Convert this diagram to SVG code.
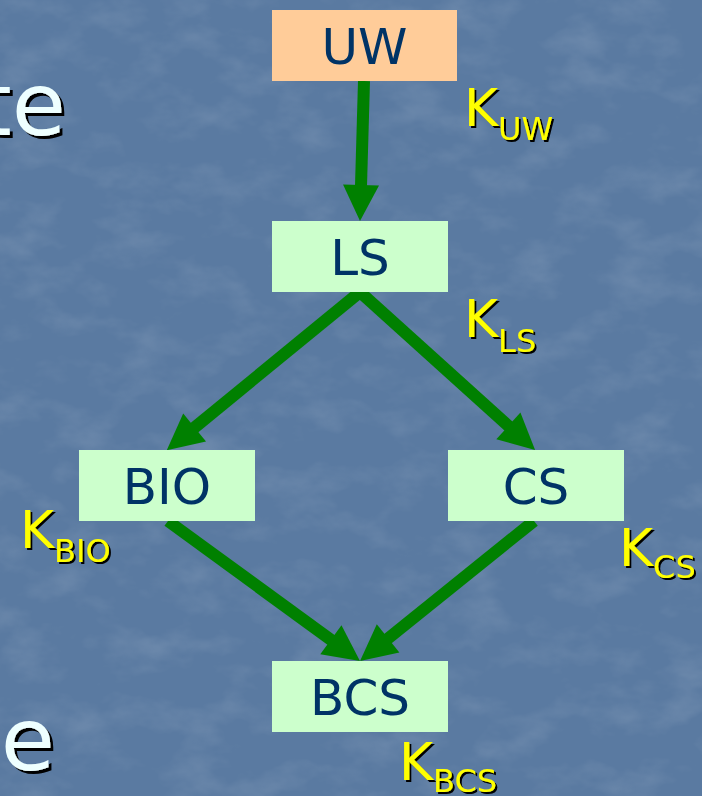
<svg xmlns="http://www.w3.org/2000/svg" width="702" height="796" viewBox="0 0 702 796">
  <defs>
    <style>
      .box-uw { fill: #FFCC99; }
      .box { fill: #CCFFCC; }
      .node-label { font-family: "DejaVu Sans", "Liberation Sans", sans-serif; font-size: 50px; fill: #003366; text-anchor: middle; }
      .k { font-family: "DejaVu Sans", "Liberation Sans", sans-serif; font-size: 52px; fill: #FFFF00; filter: url(#shadow); }
      .k tspan.sub { font-size: 32px; }
      .title { font-family: "DejaVu Sans", "Liberation Sans", sans-serif; font-size: 88px; fill: #EEFFFF; text-anchor: end; filter: url(#shadowBig); }
      .edge { stroke: #008000; stroke-width: 12; fill: none; marker-end: url(#head); }
    </style>
    <marker id="head" markerUnits="userSpaceOnUse" markerWidth="36" markerHeight="36" refX="15" refY="18" orient="auto" overflow="visible">
      <path d="M0,0 L36,18 L0,36 z" fill="#008000"/>
    </marker>
    <filter id="shadow" x="-10%" y="-10%" width="130%" height="130%">
      <feDropShadow dx="2" dy="2" stdDeviation="0.4" flood-color="#000000" flood-opacity="1"/>
    </filter>
    <filter id="shadowBig" x="-10%" y="-10%" width="130%" height="130%">
      <feDropShadow dx="3" dy="3" stdDeviation="0.6" flood-color="#000000" flood-opacity="1"/>
    </filter>
    <!-- mottled backdrop texture -->
    <filter id="marble" x="0" y="0" width="100%" height="100%">
      <feTurbulence type="fractalNoise" baseFrequency="0.018 0.03" numOctaves="4" seed="7" result="noise"/>
      <feColorMatrix in="noise" type="matrix"
        values="0 0 0 0 1
                0 0 0 0 1
                0 0 0 0 1
                1.1 0 0 0 -0.5" />
    </filter>
  </defs>

  <!-- backdrop -->
  <rect x="0" y="0" width="702" height="796" fill="#5A7AA1"/>
  <rect x="0" y="0" width="702" height="796" filter="url(#marble)" opacity="0.22"/>

  <!-- slide text running off the left edge -->
  <text class="title" x="66" y="135">te</text>
  <text class="title" x="55" y="770">ne</text>

  <!-- connectors -->
  <g id="connectors">
    <line class="edge" x1="364" y1="81" x2="360.6" y2="200"/>
    <line class="edge" x1="360" y1="292" x2="183" y2="437"/>
    <line class="edge" x1="360" y1="292" x2="519.5" y2="436"/>
    <line class="edge" x1="168" y1="521" x2="343" y2="648.6"/>
    <line class="edge" x1="534" y1="521" x2="376.4" y2="647.8"/>
  </g>

  <g id="node-uw">
    <rect class="box-uw" x="272" y="10" width="185" height="71"/>
    <text class="node-label" x="364.5" y="64">UW</text>
  </g>
  <g id="node-ls">
    <rect class="box" x="272" y="221" width="176" height="71"/>
    <text class="node-label" x="360" y="275">LS</text>
  </g>
  <g id="node-bio">
    <rect class="box" x="79" y="450" width="176" height="71"/>
    <text class="node-label" x="167" y="504">BIO</text>
  </g>
  <g id="node-cs">
    <rect class="box" x="448" y="450" width="176" height="71"/>
    <text class="node-label" x="536" y="504">CS</text>
  </g>
  <g id="node-bcs">
    <rect class="box" x="272" y="661" width="176" height="71"/>
    <text class="node-label" x="360" y="715">BCS</text>
  </g>

  <!-- key labels -->
  <g id="key-uw"><text class="k" x="464" y="126">K<tspan class="sub" dy="14">UW</tspan></text></g>
  <g id="key-ls"><text class="k" x="464" y="337">K<tspan class="sub" dy="15">LS</tspan></text></g>
  <g id="key-bio"><text class="k" x="20" y="548">K<tspan class="sub" dy="14">BIO</tspan></text></g>
  <g id="key-cs"><text class="k" x="619" y="566">K<tspan class="sub" dy="12">CS</tspan></text></g>
  <g id="key-bcs"><text class="k" x="399" y="780">K<tspan class="sub" dy="12">BCS</tspan></text></g>
</svg>
